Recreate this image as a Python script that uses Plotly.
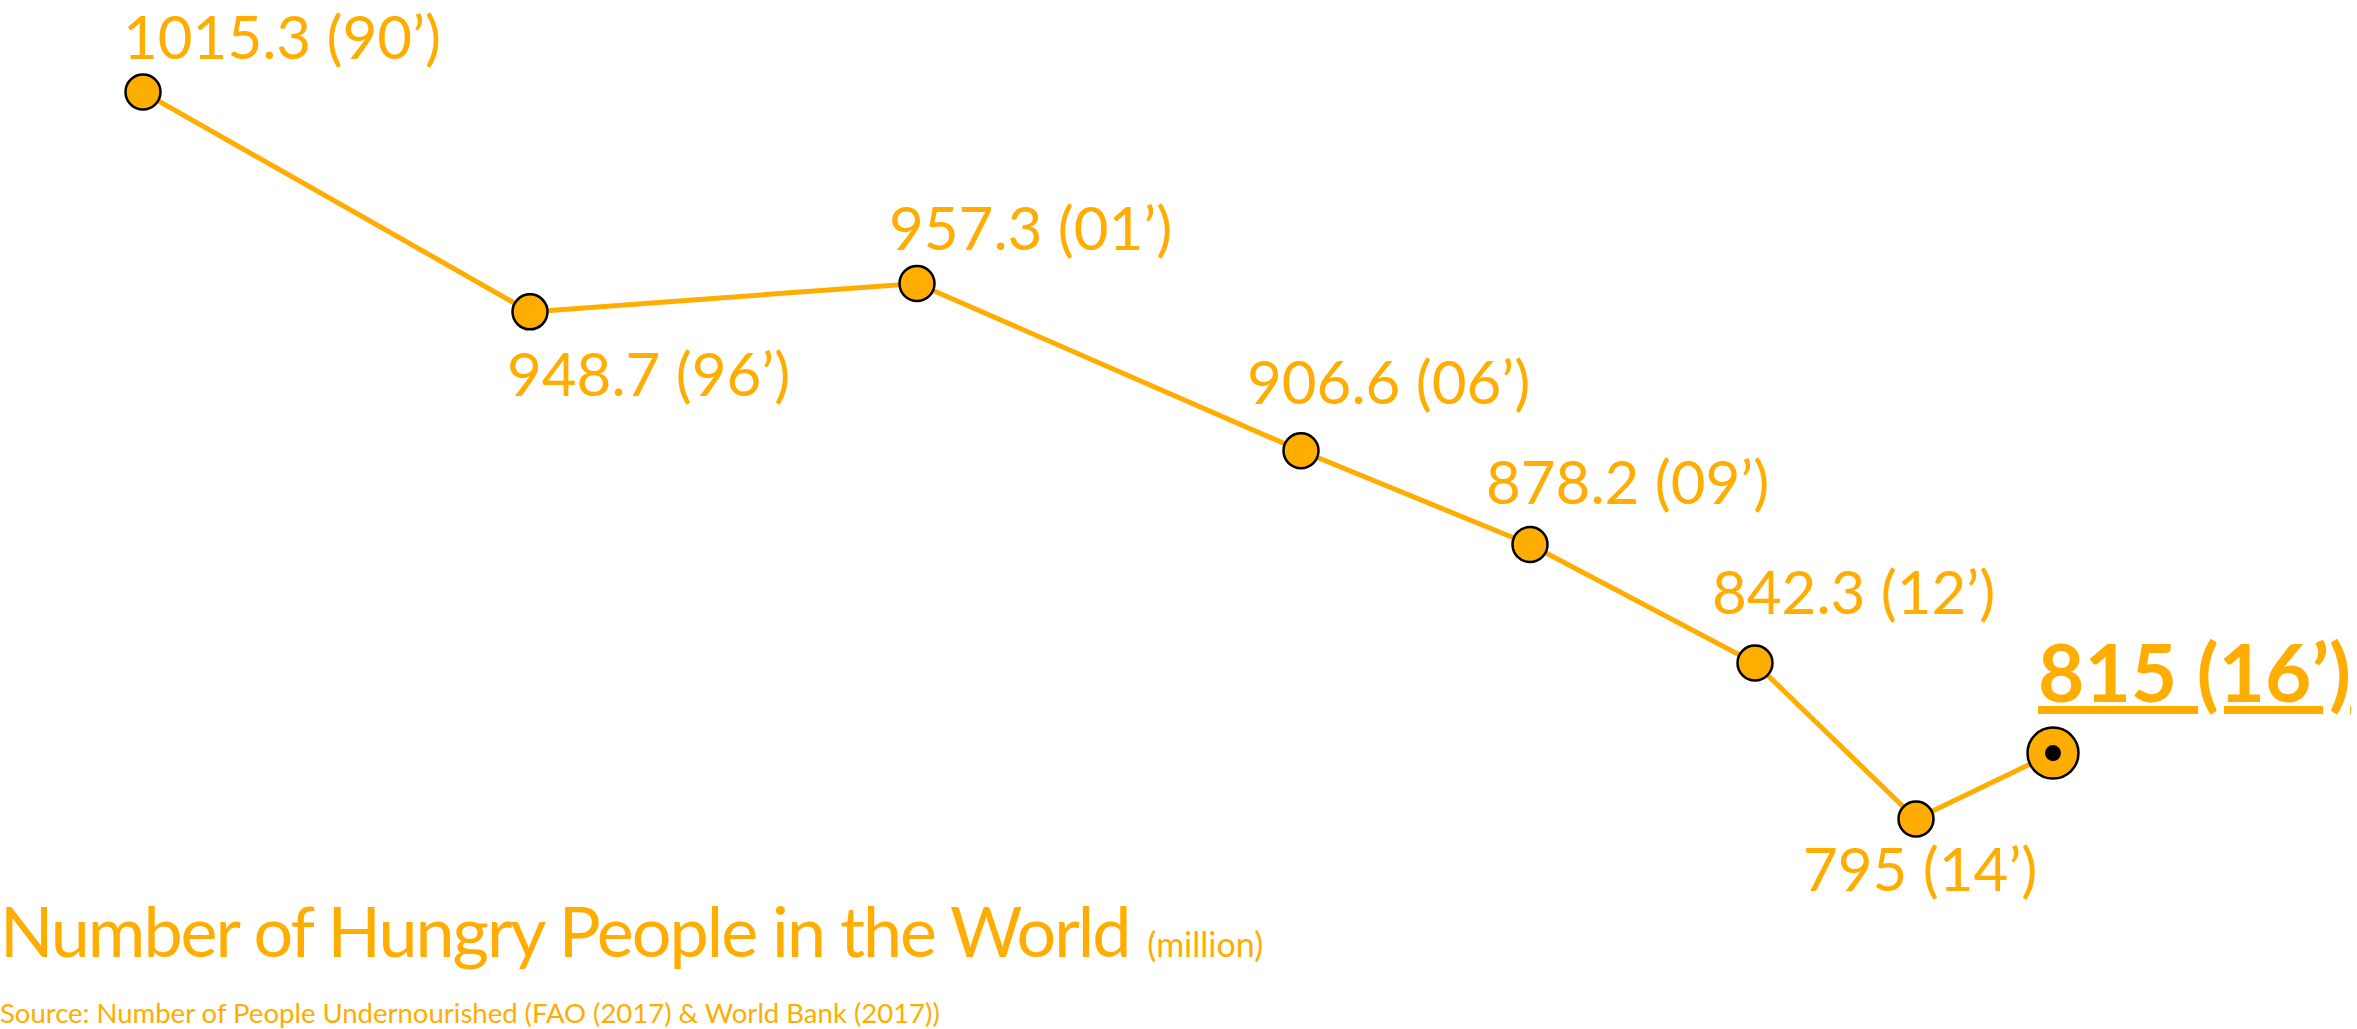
import plotly.graph_objects as go

# ---- data ----
year_labels = ["90", "96", "01", "06", "09", "12", "14", "16"]
hungry_million = [1015.3, 948.7, 957.3, 906.6, 878.2, 842.3, 795, 815]
# horizontal placement of each observation as read from the picture (the
# original is not spaced proportionally to the year)
x_pos = [143, 530, 917, 1301, 1530, 1755, 1916, 2053]

title_text = "Number of Hungry People in the World"
unit_text = "(million)"
source_text = "Source: Number of People Undernourished (FAO (2017) & World Bank (2017))"

# ---- style ----
ORANGE = "#FFAD00"
FONT = "Lato"
W, H = 2357, 1029

# label offsets (px) relative to the marker: (dx of label anchor, dy of label centre, xanchor)
label_place = [
    (-22, -56, "left"),
    (-25, 61, "left"),
    (-30, -56, "left"),
    (-56, -70, "left"),
    (-46, -64, "left"),
    (-45, -72, "left"),
    (4, 49, "center"),
    (-17, -82, "left"),
]

fig = go.Figure()

fig.add_trace(go.Scatter(
    x=x_pos, y=hungry_million, mode="lines",
    line=dict(color=ORANGE, width=5),
    hoverinfo="skip", showlegend=False,
))
fig.add_trace(go.Scatter(
    x=x_pos[:-1], y=hungry_million[:-1], mode="markers",
    marker=dict(size=35, color=ORANGE, line=dict(color="black", width=2.5)),
    showlegend=False,
))
fig.add_trace(go.Scatter(
    x=x_pos[-1:], y=hungry_million[-1:], mode="markers",
    marker=dict(size=51, color=ORANGE, line=dict(color="black", width=2.5)),
    showlegend=False,
))
fig.add_trace(go.Scatter(
    x=x_pos[-1:], y=hungry_million[-1:], mode="markers",
    marker=dict(size=16, color="black"),
    showlegend=False,
))

annotations = []
for i, (xv, v, yr) in enumerate(zip(x_pos, hungry_million, year_labels)):
    dx, dy, xa = label_place[i]
    vs = f"{v:g}"
    last = i == len(x_pos) - 1
    if last:
        txt = ("<span style='text-decoration:underline;text-decoration-thickness:6px;"
               f"text-decoration-skip-ink:none;font-weight:bold'>{vs}\u00a0({yr}\u2019)</span>")
    else:
        txt = f"{vs} ({yr}\u2019)"
    annotations.append(dict(
        x=xv, y=v, xref="x", yref="y", text=txt, showarrow=False,
        xanchor=xa, yanchor="middle", xshift=dx, yshift=-dy,
        font=dict(family=FONT, size=80 if last else 60, color=ORANGE),
    ))

annotations.append(dict(
    x=0, y=1 - 929.5 / H, xref="paper", yref="paper", xanchor="left", yanchor="middle",
    xshift=-2,
    text=(f"<span style='letter-spacing:-2px'>{title_text}</span> "
          f"<span style='font-size:34px'>{unit_text}</span>"),
    showarrow=False, font=dict(family=FONT, size=70, color=ORANGE),
))
annotations.append(dict(
    x=0, y=1 - 1012 / H, xref="paper", yref="paper", xanchor="left", yanchor="middle",
    xshift=-2,
    text=source_text, showarrow=False, font=dict(family=FONT, size=27.5, color=ORANGE),
))

fig.update_layout(
    width=W, height=H,
    margin=dict(l=0, r=0, t=0, b=0),
    paper_bgcolor="white", plot_bgcolor="white",
    xaxis=dict(range=[0, W], visible=False),
    yaxis=dict(range=[731.4, 1043.2], visible=False),
    annotations=annotations,
    showlegend=False,
)

fig.write_html("out.html", config={"displayModeBar": False},
               post_script="document.body.style.margin='0';")
